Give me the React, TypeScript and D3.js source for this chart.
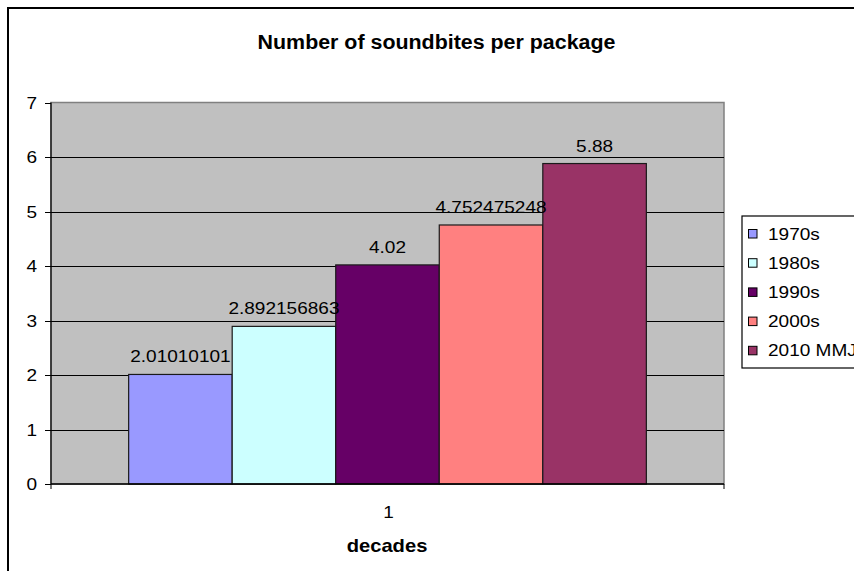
import React from "react";
import * as d3 from "d3";

const categories = ["1"];
const seriesNames = ["1970s", "1980s", "1990s", "2000s", "2010 MMJ"];
const seriesValues = [2.01010101, 2.892156863, 4.02, 4.752475248, 5.88];
const valueLabels = ["2.01010101", "2.892156863", "4.02", "4.752475248", "5.88"];
const seriesColors = ["#9999FF", "#CCFFFF", "#660066", "#FF8080", "#993366"];
const yTicks = [0, 1, 2, 3, 4, 5, 6, 7];

const W = 854;
const H = 571;
const plot = { left: 51, right: 724, top: 102.5, bottom: 484 };
const FONT = "'Liberation Sans', Arial, sans-serif";
const SX = 1.12;

type TProps = {
  x: number;
  y: number;
  children: React.ReactNode;
  anchor?: "start" | "middle" | "end";
  size?: number;
  weight?: string | number;
  sx?: number;
};

// Text drawn with the slightly wide glyph proportions used throughout the chart
function T({ x, y, children, anchor = "middle", size = 17, weight = "normal", sx = SX }: TProps) {
  return (
    <text
      transform={`translate(${x},${y}) scale(${sx},1)`}
      textAnchor={anchor}
      fontFamily={FONT}
      fontSize={size}
      fontWeight={weight}
      fill="#000"
    >
      {children}
    </text>
  );
}

export default function App() {
  const y = d3.scaleLinear().domain([0, 7]).range([plot.bottom, plot.top]);
  const xCat = d3.scaleBand().domain(categories).range([plot.left, plot.right]);
  const catW = xCat.bandwidth();
  const barW = catW / 6.5;
  const x0 = xCat(categories[0])!;
  const xSeries = d3
    .scaleBand()
    .domain(seriesNames)
    .range([x0 + 0.75 * barW, x0 + catW - 0.75 * barW])
    .padding(0);

  const legendTop = 229;
  const legendStep = 29.2;

  return (
    <svg
      width={W}
      height={H}
      style={{ position: "absolute", left: 0, top: 0, display: "block", background: "#fff" }}
    >
      {/* chart frame */}
      <rect x={8} y={8} width={W + 20} height={H + 20} fill="#fff" stroke="#000" strokeWidth={2} />

      {/* title */}
      <T x={436.5} y={49} size={20} weight="bold" sx={1.07}>
        Number of soundbites per package
      </T>

      {/* plot area */}
      <rect
        x={plot.left}
        y={plot.top}
        width={plot.right - plot.left}
        height={plot.bottom - plot.top}
        fill="#C0C0C0"
        stroke="#808080"
        strokeWidth={1.5}
      />

      {/* gridlines */}
      {yTicks.slice(1, -1).map((t) => (
        <line
          key={`g${t}`}
          x1={plot.left}
          x2={plot.right}
          y1={Math.round(y(t)) + 0.5}
          y2={Math.round(y(t)) + 0.5}
          stroke="#000"
          strokeWidth={1}
        />
      ))}

      {/* bars */}
      {seriesNames.map((s, i) => (
        <rect
          key={s}
          x={xSeries(s)!}
          y={y(seriesValues[i])}
          width={xSeries.bandwidth()}
          height={plot.bottom - y(seriesValues[i])}
          fill={seriesColors[i]}
          stroke="#1a1a1a"
          strokeWidth={1.2}
        />
      ))}

      {/* value labels */}
      {seriesNames.map((s, i) => (
        <T key={`l${s}`} x={xSeries(s)! + xSeries.bandwidth() / 2} y={y(seriesValues[i]) - 12}>
          {valueLabels[i]}
        </T>
      ))}

      {/* y axis */}
      <line x1={plot.left} x2={plot.left} y1={plot.top} y2={plot.bottom} stroke="#000" strokeWidth={1.2} />
      {yTicks.map((t) => (
        <g key={`y${t}`}>
          <line
            x1={plot.left - 6}
            x2={plot.left}
            y1={Math.round(y(t)) + 0.5}
            y2={Math.round(y(t)) + 0.5}
            stroke="#000"
          />
          <T x={37} y={y(t) + 6} anchor="end">
            {t}
          </T>
        </g>
      ))}

      {/* x axis */}
      <line x1={plot.left} x2={plot.right} y1={plot.bottom} y2={plot.bottom} stroke="#000" strokeWidth={1.5} />
      {[plot.left, plot.right].map((px) => (
        <line key={`xt${px}`} x1={px} x2={px} y1={plot.bottom} y2={plot.bottom + 5} stroke="#000" />
      ))}
      {categories.map((c) => (
        <T key={`c${c}`} x={xCat(c)! + catW / 2 + 1} y={518}>
          {c}
        </T>
      ))}
      <T x={387} y={552} size={18} weight="bold" sx={1.12}>
        decades
      </T>

      {/* legend */}
      <rect x={742} y={216} width={140} height={152} fill="#fff" stroke="#000" strokeWidth={1.2} />
      {seriesNames.map((s, i) => (
        <g key={`lg${s}`}>
          <rect
            x={748.5}
            y={legendTop + i * legendStep + 0.5}
            width={8.5}
            height={8.5}
            fill={seriesColors[i]}
            stroke="#000"
            strokeWidth={1}
          />
          <T x={768} y={legendTop + i * legendStep + 10.5} anchor="start">
            {s}
          </T>
        </g>
      ))}
    </svg>
  );
}
